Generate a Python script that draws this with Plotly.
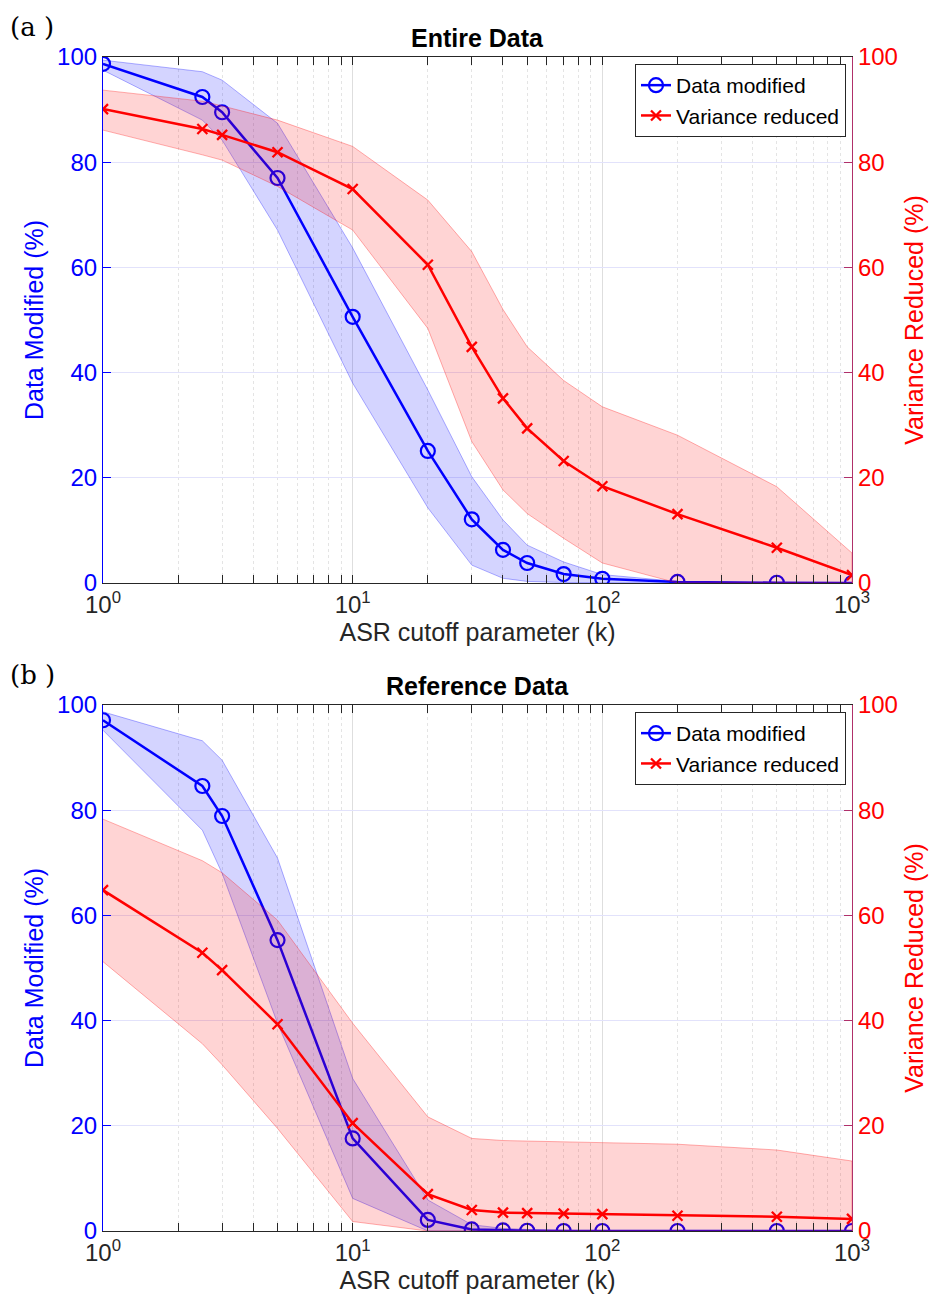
import plotly.graph_objects as go

# ---------------- data ----------------
k = [1, 2.5, 3, 5, 10, 20, 30, 40, 50, 70, 100, 200, 500, 1000]

# (a) Entire Data
a_mod    = [98.7, 92.4, 89.5, 77.0, 50.6, 25.1, 12.1, 6.3, 3.8, 1.7, 0.8, 0.2, 0.05, 0.0]
a_mod_hi = [99.4, 97.2, 95.6, 87.4, 63.7, 36.7, 20.2, 12.0, 7.2, 4.0, 1.6, 0.3, 0.1, 0.0]
a_mod_lo = [97.5, 88.0, 84.2, 67.1, 38.0, 14.3, 3.4, 0.9, 0.3, 0.1, 0.0, 0.0, 0.0, 0.0]
a_var    = [90.1, 86.3, 85.2, 81.9, 74.9, 60.5, 44.9, 35.1, 29.4, 23.2, 18.4, 13.1, 6.7, 1.5]
a_var_hi = [93.7, 91.6, 90.7, 88.0, 83.0, 72.8, 63.0, 52.0, 44.9, 38.5, 33.5, 28.1, 18.3, 5.7]
a_var_lo = [86.1, 81.4, 80.4, 75.4, 67.1, 48.4, 26.9, 17.7, 13.2, 8.5, 3.8, 0.0, 0.0, 0.0]

# (b) Reference Data
b_mod    = [97.1, 84.6, 78.9, 55.3, 17.6, 2.1, 0.3, 0.1, 0.05, 0.0, 0.0, 0.0, 0.0, 0.0]
b_mod_hi = [98.7, 93.2, 89.5, 70.9, 29.0, 5.9, 1.2, 0.5, 0.3, 0.1, 0.0, 0.0, 0.0, 0.0]
b_mod_lo = [95.2, 76.2, 68.0, 39.5, 6.2, 0.0, 0.0, 0.0, 0.0, 0.0, 0.0, 0.0, 0.0, 0.0]
b_var    = [64.8, 52.9, 49.6, 39.3, 20.5, 7.0, 4.0, 3.5, 3.4, 3.3, 3.2, 2.9, 2.7, 2.3]
b_var_hi = [78.3, 70.4, 68.1, 59.1, 39.5, 21.7, 17.6, 17.2, 17.1, 17.0, 16.8, 16.5, 15.4, 13.3]
b_var_lo = [51.2, 35.6, 31.6, 19.5, 1.8, 0.0, 0.0, 0.0, 0.0, 0.0, 0.0, 0.0, 0.0, 0.0]

x_tickvals = [1, 10, 100, 1000]
x_ticktext = ["10<sup>0</sup>", "10<sup>1</sup>", "10<sup>2</sup>", "10<sup>3</sup>"]
y_tickvals = [0, 20, 40, 60, 80, 100]
minor_vals = [d * 10 ** e for e in range(3) for d in range(2, 10)]

titles = ["Entire Data", "Reference Data"]
panel_labels = ["(a )", "(b )"]
legend_names = ["Data modified", "Variance reduced"]

FONT = "Liberation Sans, Arial, sans-serif"
BLUE = "#0000ff"
RED = "#ff0000"
RAXIS = "#b0306a"
DARK = "#262626"

fig = go.Figure()

def band(xs, hi, lo, fill, edge, xa, ya):
    fig.add_trace(go.Scatter(
        x=list(xs) + list(xs)[::-1], y=list(hi) + list(lo)[::-1],
        fill="toself", fillcolor=fill, mode="lines",
        line=dict(color=edge, width=0.9), hoverinfo="skip",
        showlegend=False, xaxis=xa, yaxis=ya))

panels = [
    (a_mod, a_mod_hi, a_mod_lo, a_var, a_var_hi, a_var_lo, "x", "y", "y2", "legend"),
    (b_mod, b_mod_hi, b_mod_lo, b_var, b_var_hi, b_var_lo, "x2", "y3", "y4", "legend2"),
]

for (m, mh, ml, v, vh, vl, xa, yl, yr, lg) in panels:
    band(k, vh, vl, "rgba(255,0,0,0.17)", "rgba(255,0,0,0.35)", xa, yr)
    band(k, mh, ml, "rgba(0,0,255,0.17)", "rgba(0,0,255,0.35)", xa, yl)
    fig.add_trace(go.Scatter(
        x=k, y=m, mode="lines+markers", name=legend_names[0],
        line=dict(color=BLUE, width=2.5),
        marker=dict(symbol="circle-open", size=14, color=BLUE, line=dict(width=2.2)),
        xaxis=xa, yaxis=yl, legend=lg))
    fig.add_trace(go.Scatter(
        x=k, y=v, mode="lines+markers", name=legend_names[1],
        line=dict(color=RED, width=2.5),
        marker=dict(symbol="x-thin-open", size=10, color=RED, line=dict(width=2.3, color=RED)),
        xaxis=xa, yaxis=yr, legend=lg))

# layout geometry (pixels -> paper)
L, R, T, B = 103, 78, 57, 70
H = 1301
ph = H - T - B
def py(pix):
    return (H - B - pix) / ph

dom_a = [py(583), 1.0]
dom_b = [0.0, py(705)]

def xaxis_cfg(anchor):
    return dict(
        type="log", range=[0, 3], domain=[0, 1], anchor=anchor,
        tickmode="array", tickvals=x_tickvals, ticktext=x_ticktext,
        tickfont=dict(family=FONT, size=24, color=DARK),
        ticks="inside", ticklen=8, tickcolor=DARK,
        showline=True, linecolor=DARK, linewidth=1, mirror="allticks",
        showgrid=True, gridcolor="#dedede", gridwidth=1,
        minor=dict(tickmode="array", tickvals=minor_vals, ticks="inside",
                   ticklen=5, tickcolor=DARK, showgrid=True,
                   gridcolor="#e4e4e4", griddash="dot", gridwidth=1),
        title=dict(text="ASR cutoff parameter (k)",
                   font=dict(family=FONT, size=25, color=DARK), standoff=6),
        zeroline=False, automargin=False,
    )

def yleft_cfg(anchor, dom):
    return dict(
        range=[0, 100], domain=dom, anchor=anchor,
        tickmode="array", tickvals=y_tickvals,
        tickfont=dict(family=FONT, size=24, color=BLUE),
        ticks="inside", ticklen=8, tickcolor=BLUE,
        showline=True, linecolor=BLUE, linewidth=1.2,
        showgrid=True, gridcolor="#e2e2fb", gridwidth=1,
        zeroline=False, automargin=False,
        title=dict(text="Data Modified (%)",
                   font=dict(family=FONT, size=25, color=BLUE), standoff=6),
    )

def yright_cfg(anchor, over, dom):
    return dict(
        range=[0, 100], domain=dom, anchor=anchor, overlaying=over, side="right",
        tickmode="array", tickvals=y_tickvals,
        tickfont=dict(family=FONT, size=24, color=RED),
        ticks="inside", ticklen=8, tickcolor=RAXIS,
        showline=True, linecolor=RAXIS, linewidth=1.2,
        showgrid=False, zeroline=False, automargin=False,
        title=dict(text="Variance Reduced (%)",
                   font=dict(family=FONT, size=25, color=RED), standoff=8),
    )

legend_common = dict(
    font=dict(family=FONT, size=21, color="#000000"),
    bgcolor="white", bordercolor=DARK, borderwidth=1,
    xanchor="right", yanchor="top", x=(846 - L) / (930 - L - R),
    tracegroupgap=0, itemwidth=30,
)

fig.update_layout(
    width=930, height=1301,
    margin=dict(l=L, r=R, t=T, b=B),
    paper_bgcolor="white", plot_bgcolor="white",
    font=dict(family=FONT, color=DARK),
    xaxis=xaxis_cfg("y"),
    xaxis2=xaxis_cfg("y3"),
    yaxis=yleft_cfg("x", dom_a),
    yaxis2=yright_cfg("x", "y", dom_a),
    yaxis3=yleft_cfg("x2", dom_b),
    yaxis4=yright_cfg("x2", "y3", dom_b),
    legend=dict(legend_common, y=py(64)),
    legend2=dict(legend_common, y=py(712)),
    showlegend=True,
)

for i, dom in enumerate([dom_a, dom_b]):
    fig.add_annotation(
        text="<b>" + titles[i] + "</b>", xref="paper", yref="paper",
        x=0.5, y=dom[1], xanchor="center", yanchor="bottom", yshift=3,
        showarrow=False, font=dict(family=FONT, size=25, color="#000000"))
    fig.add_annotation(
        text=panel_labels[i], xref="paper", yref="paper",
        x=(8 - L) / (930 - L - R), y=dom[1], xanchor="left", yanchor="bottom",
        yshift=13, showarrow=False,
        font=dict(family="DejaVu Serif, serif", size=26, color="#000000"))

fig.write_html("out.html")
